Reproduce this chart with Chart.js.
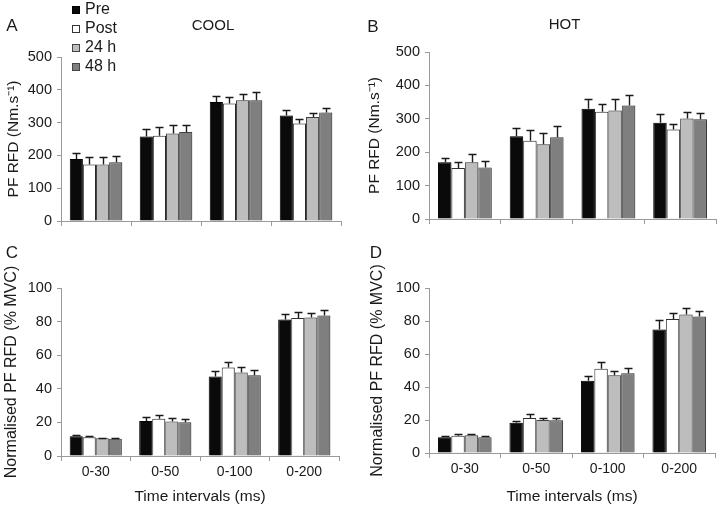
<!DOCTYPE html>
<html><head><meta charset="utf-8">
<script src="https://cdn.jsdelivr.net/npm/chart.js@4.4.1/dist/chart.umd.min.js"></script>
<style>
html,body{margin:0;padding:0;background:#fff;width:720px;height:508px;overflow:hidden;position:relative}
canvas{position:absolute}
</style></head><body>
<canvas id="cA" width="360" height="254" style="left:0;top:0;width:360px;height:254px"></canvas>
<canvas id="cB" width="360" height="254" style="left:360px;top:0;width:360px;height:254px"></canvas>
<canvas id="cC" width="360" height="268" style="left:0;top:240px;width:360px;height:268px"></canvas>
<canvas id="cD" width="360" height="268" style="left:360px;top:240px;width:360px;height:268px"></canvas>
<script>
// ---- data ----
const categories = ['0-30', '0-50', '0-100', '0-200'];
const seriesNames = ['Pre', 'Post', '24 h', '48 h'];

// A: COOL, PF RFD (Nm.s-1)
const coolPre  = [189, 258, 363, 322];  const coolPreErr  = [19, 22, 19, 16];
const coolPost = [172, 260, 358, 297];  const coolPostErr = [22, 26, 20, 13];
const cool24   = [172, 267, 368, 317];  const cool24Err   = [22, 25, 20, 13];
const cool48   = [179, 271, 368, 331];  const cool48Err   = [18, 21, 24, 15];

// B: HOT, PF RFD (Nm.s-1)
const hotPre  = [170, 248, 330, 288];   const hotPreErr  = [14, 23, 29, 25];
const hotPost = [153, 234, 321, 268];   const hotPostErr = [18, 31, 23, 16];
const hot24   = [170, 224, 325, 301];   const hot24Err   = [24, 32, 33, 20];
const hot48   = [154, 245, 340, 299];   const hot48Err   = [20, 32, 31, 18];

// C: COOL, normalised (% MVC)
const coolNormPre  = [11.7, 20.9, 47.3, 81.3]; const coolNormPreErr  = [1.0, 2.2, 3.0, 3.0];
const coolNormPost = [11.1, 22.1, 52.7, 82.1]; const coolNormPostErr = [0.8, 2.6, 3.4, 3.4];
const coolNorm24   = [10.5, 20.5, 49.7, 82.5]; const coolNorm24Err   = [0.5, 2.2, 3.0, 2.4];
const coolNorm48   = [10.3, 20.1, 48.1, 83.7]; const coolNorm48Err   = [0.5, 1.8, 3.0, 3.2];

// D: HOT, normalised (% MVC)
const hotNormPre  = [9.5, 18.4, 43.8, 74.9];  const hotNormPreErr  = [0.8, 1.2, 2.7, 5.7];
const hotNormPost = [10.5, 21.2, 51.1, 81.2]; const hotNormPostErr = [1.0, 2.4, 4.3, 3.9];
const hotNorm24   = [10.7, 20.0, 47.1, 84.0]; const hotNorm24Err   = [0.6, 1.4, 2.8, 3.9];
const hotNorm48   = [9.5, 19.8, 48.3, 82.8];  const hotNorm48Err   = [0.8, 1.6, 3.2, 3.3];

// ---- style ----
const FONT = "'Liberation Sans', Arial, Helvetica, sans-serif";
const TXT = '#1a1a1a';
const AXIS = '#9a9a9a';
const barColors = ['#0a0a0a', '#ffffff', '#bdbdbd', '#7f7f7f'];
const borderColors = ['#000000', '#333333', '#444444', '#444444'];

const deco = {
  id: 'deco',
  beforeDatasetsDraw(chart) {
    const ctx = chart.ctx;
    ctx.save();
    ctx.shadowColor = 'rgba(0,0,0,0.22)';
    ctx.shadowOffsetX = 1.5;
    ctx.shadowOffsetY = 0;
    ctx.shadowBlur = 2;
  },
  afterDatasetsDraw(chart) {
    const ctx = chart.ctx;
    ctx.restore();
    const ys = chart.scales.y;
    ctx.save();
    ctx.strokeStyle = '#1a1a1a';
    ctx.lineWidth = 1.4;
    chart.data.datasets.forEach((ds, i) => {
      const meta = chart.getDatasetMeta(i);
      meta.data.forEach((bar, j) => {
        const v = ds.data[j], e = ds.errorValues[j];
        const x = Math.round(bar.x) + 0.5;
        const y0 = ys.getPixelForValue(v);
        const y1 = Math.round(ys.getPixelForValue(v + e)) + 0.5;
        ctx.beginPath();
        ctx.moveTo(x, y0);
        ctx.lineTo(x, y1);
        ctx.moveTo(x - 4, y1);
        ctx.lineTo(x + 4, y1);
        ctx.stroke();
      });
    });
    ctx.restore();
  },
  afterDraw(chart, args, opts) {
    const ctx = chart.ctx;
    ctx.save();
    ctx.fillStyle = TXT;
    ctx.textBaseline = 'middle';
    if (opts.letter) {
      ctx.font = '17px ' + FONT;
      ctx.textAlign = 'center';
      ctx.fillText(opts.letter, opts.letterX, opts.letterY);
    }
    if (opts.title) {
      ctx.font = '15px ' + FONT;
      ctx.textAlign = 'center';
      ctx.fillText(opts.title, opts.titleX, opts.titleY);
    }
    if (opts.legend) {
      ctx.font = '16px ' + FONT;
      ctx.textAlign = 'left';
      chart.data.datasets.forEach((ds, i) => {
        const y = 10 + i * 19;
        ctx.fillStyle = ds.backgroundColor;
        ctx.fillRect(72, y - 4, 8, 8);
        ctx.strokeStyle = ds.borderColor;
        ctx.lineWidth = 1;
        ctx.strokeRect(72.5, y - 3.5, 7, 7);
        ctx.fillStyle = TXT;
        ctx.fillText(ds.label, 85, y);
      });
    }
    ctx.restore();
  }
};

function build(id, o) {
  const H = o.h;
  return new Chart(document.getElementById(id), {
    type: 'bar',
    data: {
      labels: categories,
      datasets: seriesNames.map((n, i) => ({
        label: n,
        data: o.values[i],
        errorValues: o.errors[i],
        backgroundColor: barColors[i],
        borderColor: borderColors[i],
        borderWidth: 1,
        categoryPercentage: 0.75,
        barPercentage: 1.0
      }))
    },
    options: {
      responsive: false,
      animation: false,
      devicePixelRatio: 1,
      layout: { padding: { top: o.area.top, right: 360 - o.area.right, left: 0, bottom: 0 } },
      plugins: {
        legend: { display: false },
        tooltip: { enabled: false },
        title: { display: false },
        deco: o.deco
      },
      scales: {
        x: {
          offset: true,
          grid: { offset: true, drawOnChartArea: false, drawTicks: true, tickLength: 5, color: AXIS },
          border: { color: AXIS, width: 1 },
          ticks: { display: o.showX, color: TXT, font: { family: FONT, size: 14 }, padding: 3, maxRotation: 0, minRotation: 0 },
          title: { display: o.showX, text: 'Time intervals (ms)', color: TXT, font: { family: FONT, size: 15.5 }, padding: { top: 0, bottom: 2 } },
          afterFit(s) { s.height = H - o.area.bottom; }
        },
        y: {
          min: 0, max: o.yMax,
          ticks: { stepSize: o.yStep, color: TXT, font: { family: FONT, size: 14.5 }, padding: 5 },
          grid: { drawOnChartArea: false, drawTicks: true, tickLength: 4, color: AXIS },
          border: { color: AXIS, width: 1 },
          title: { display: true, text: o.yTitle, color: TXT, font: { family: FONT, size: o.yTitleSize }, padding: { top: o.yTitlePad, bottom: 0 } },
          afterFit(s) { s.width = o.area.left; }
        }
      }
    },
    plugins: [deco]
  });
}

build('cA', {
  h: 254, area: { left: 61, right: 341, top: 57, bottom: 221 },
  values: [coolPre, coolPost, cool24, cool48],
  errors: [coolPreErr, coolPostErr, cool24Err, cool48Err],
  yMax: 500, yStep: 100, yTitle: 'PF RFD (Nm.s\u207B\u00B9)', yTitleSize: 15.5, yTitlePad: 4,
  showX: false,
  deco: { letter: 'A', letterX: 12, letterY: 26, title: 'COOL', titleX: 213, titleY: 26, legend: true }
});
build('cB', {
  h: 254, area: { left: 69, right: 356, top: 52, bottom: 219 },
  values: [hotPre, hotPost, hot24, hot48],
  errors: [hotPreErr, hotPostErr, hot24Err, hot48Err],
  yMax: 500, yStep: 100, yTitle: 'PF RFD (Nm.s\u207B\u00B9)', yTitleSize: 15.5, yTitlePad: 5,
  showX: false,
  deco: { letter: 'B', letterX: 13, letterY: 27, title: 'HOT', titleX: 204.5, titleY: 25, legend: false }
});
build('cC', {
  h: 268, area: { left: 61, right: 339, top: 48, bottom: 216 },
  values: [coolNormPre, coolNormPost, coolNorm24, coolNorm48],
  errors: [coolNormPreErr, coolNormPostErr, coolNorm24Err, coolNorm48Err],
  yMax: 100, yStep: 20, yTitle: 'Normalised PF RFD (% MVC)', yTitleSize: 16, yTitlePad: 2,
  showX: true,
  deco: { letter: 'C', letterX: 12, letterY: 13, legend: false }
});
build('cD', {
  h: 268, area: { left: 69, right: 355, top: 48, bottom: 213 },
  values: [hotNormPre, hotNormPost, hotNorm24, hotNorm48],
  errors: [hotNormPreErr, hotNormPostErr, hotNorm24Err, hotNorm48Err],
  yMax: 100, yStep: 20, yTitle: 'Normalised PF RFD (% MVC)', yTitleSize: 16, yTitlePad: 8,
  showX: true,
  deco: { letter: 'D', letterX: 16, letterY: 13, legend: false }
});
</script>
</body></html>
